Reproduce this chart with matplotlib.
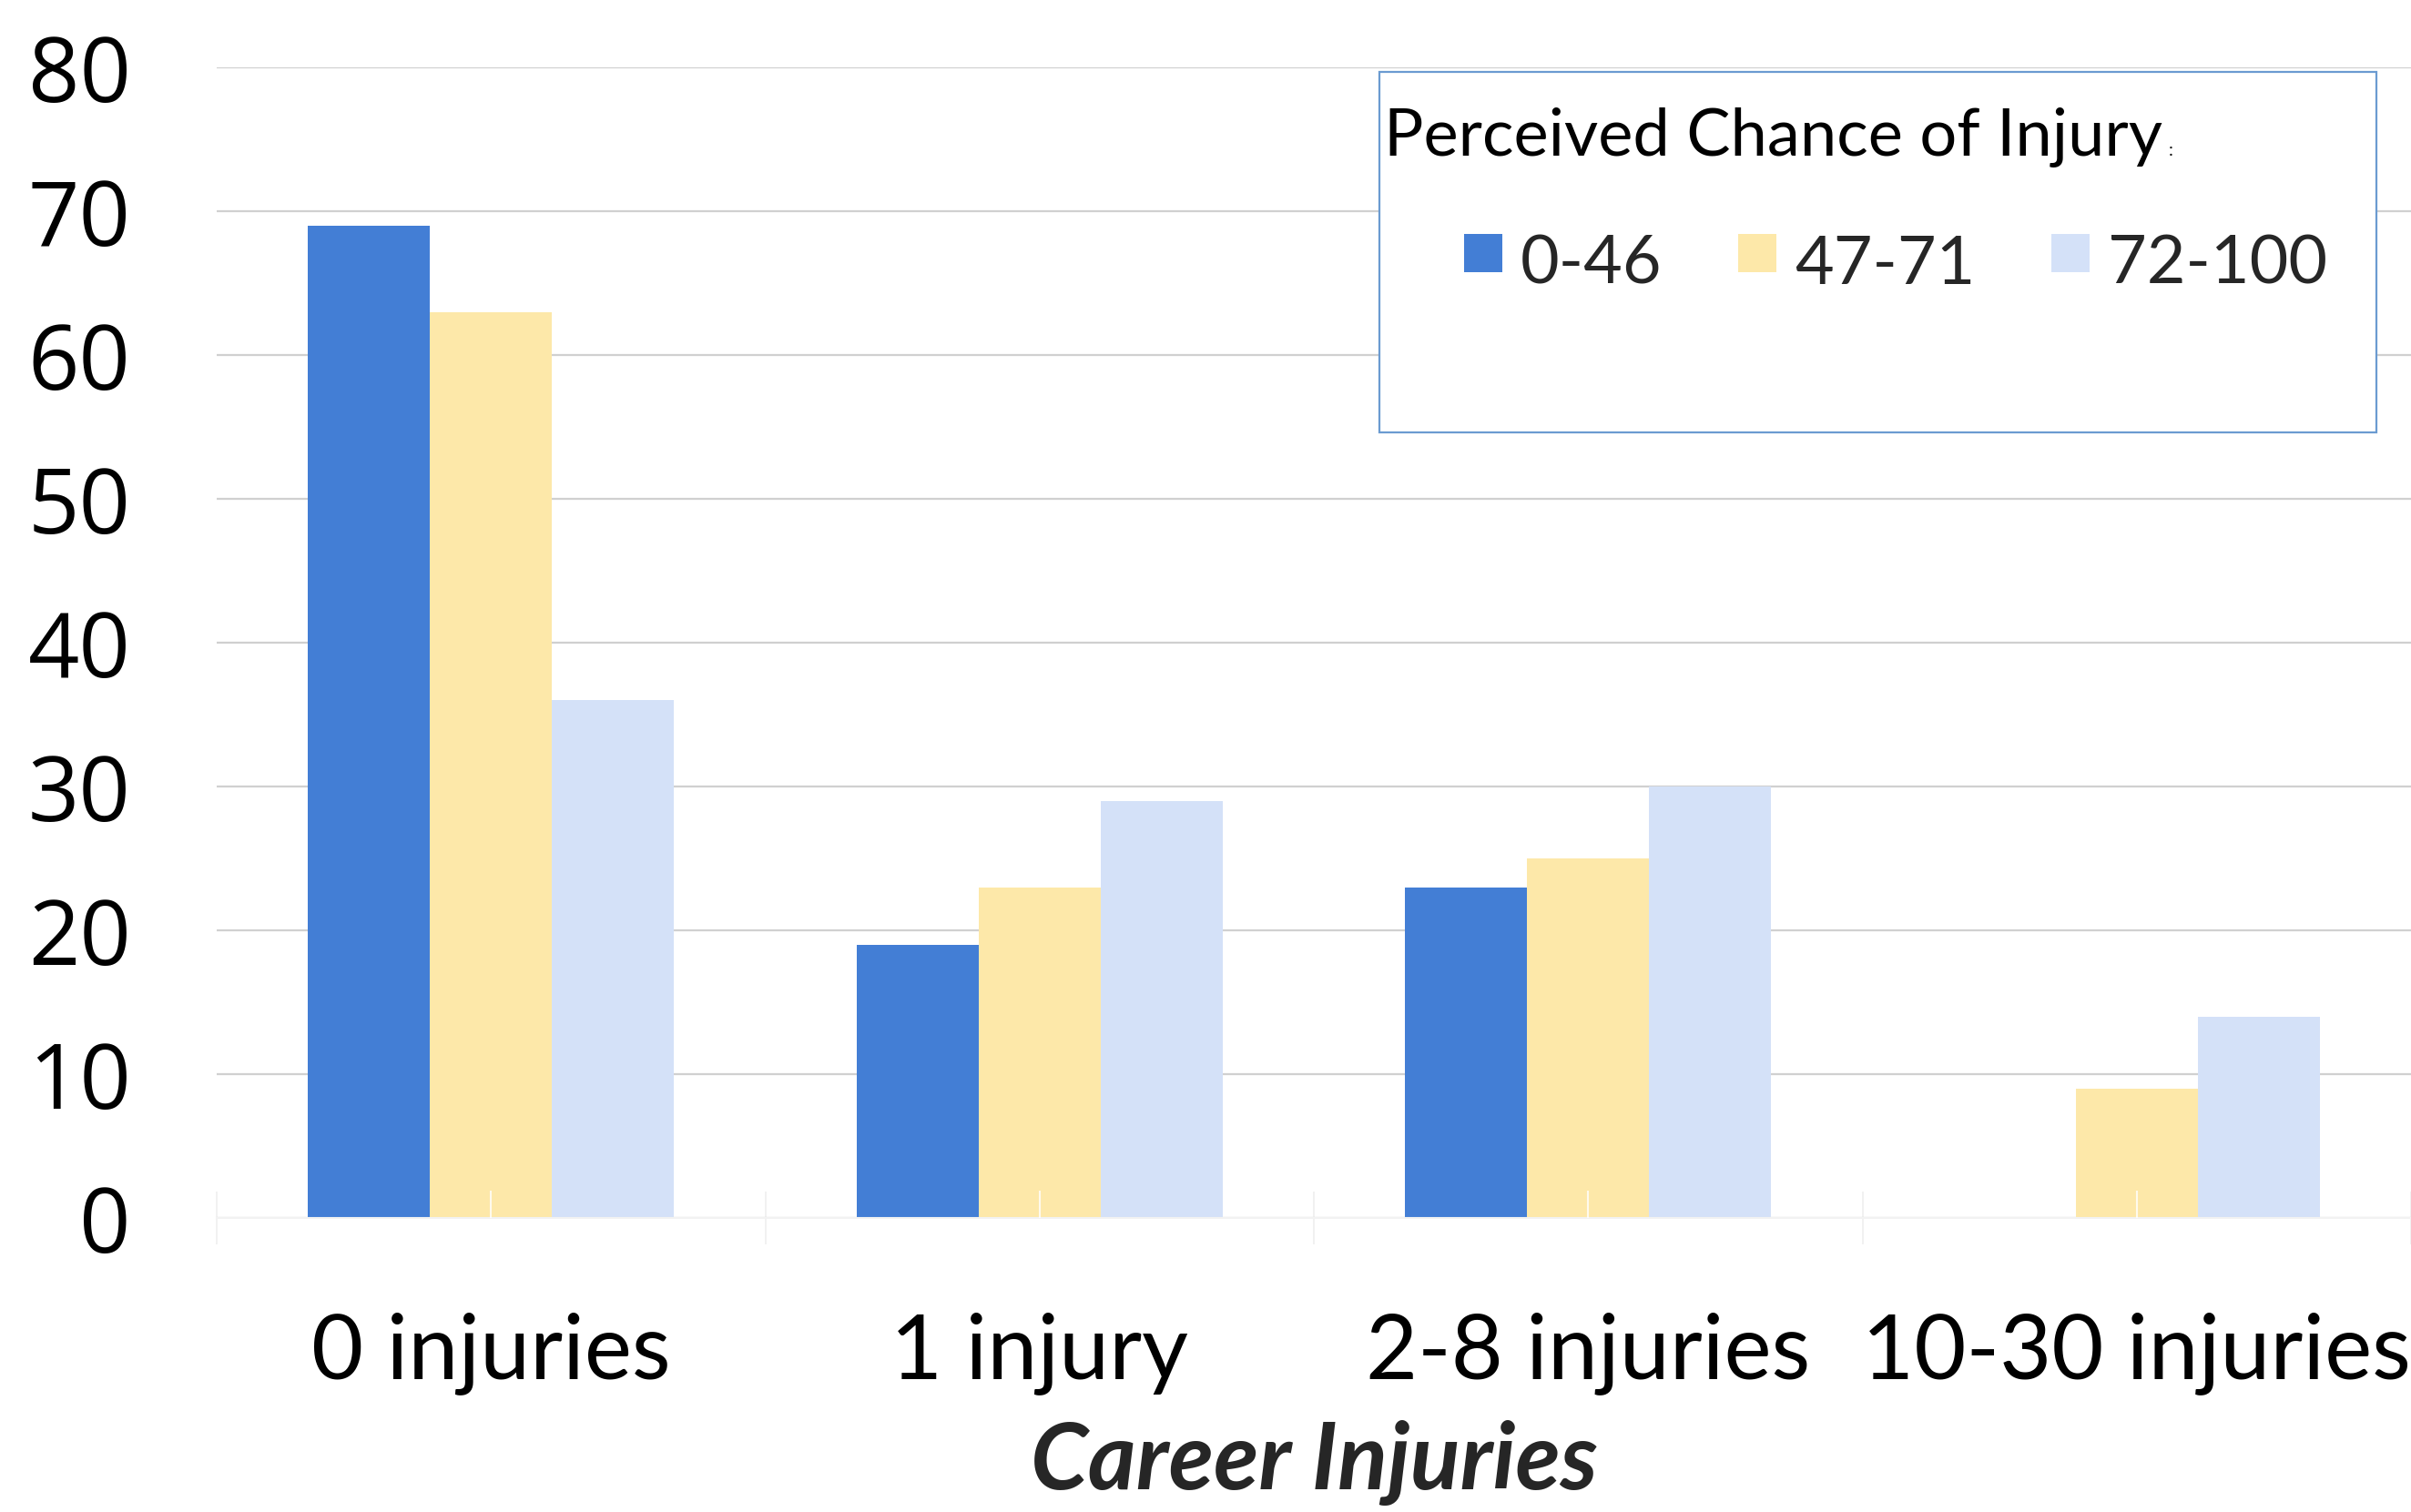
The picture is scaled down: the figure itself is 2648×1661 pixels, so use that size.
import numpy as np
import matplotlib
matplotlib.use("Agg")
import matplotlib.pyplot as plt
from matplotlib.patches import Rectangle

# data
categories = ["0 injuries", "1 injury", "2-8 injuries", "10-30 injuries"]
series_names = ["0-46", "47-71", "72-100"]
vals_0_46 = [69, 19, 23, 0]
vals_47_71 = [63, 23, 25, 9]
vals_72_100 = [36, 29, 30, 14]
colors = ["#437ED5", "#FDE8A9", "#D4E1F8"]
y_ticks = [0, 10, 20, 30, 40, 50, 60, 70, 80]

W, H = 2648, 1661
fig = plt.figure(figsize=(W / 100, H / 100), dpi=100)


def fx(px):
    return px / W


def fy(py):
    return 1 - py / H


# axes box in pixels: left 238, right 2648, top 74 (=80), bottom 1338 (=0)
ax = fig.add_axes([fx(238), fy(1338), fx(2648 - 238), (1338 - 74) / H])

x = np.arange(len(categories))
bw = 0.2225
all_vals = [vals_0_46, vals_47_71, vals_72_100]
for i, (vals, c) in enumerate(zip(all_vals, colors)):
    ax.bar(x + (i - 1) * bw, vals, width=bw, color=c, zorder=1)

ax.set_xlim(-0.5, len(categories) - 0.5)
ax.set_ylim(0, 80)
ax.set_axisbelow(True)
ax.yaxis.grid(True, color="#d0d0d0", lw=1.6)
for s in ["top", "right", "left"]:
    ax.spines[s].set_visible(False)
ax.spines["bottom"].set_color("#f2f2f2")
ax.spines["bottom"].set_linewidth(1.5)

ax.set_yticks(y_ticks)
ax.set_yticklabels([str(v) for v in y_ticks], fontfamily="Open Sans", fontsize=71)
ax.tick_params(axis="y", length=0, pad=68, colors="black")

ax.set_xticks(x)
ax.set_xticklabels(categories, fontfamily="Lato", fontsize=71)
ax.tick_params(axis="x", which="major", length=0, pad=74, colors="black")
# faint boundary ticks between categories
ax.set_xticks(np.arange(len(categories) + 1) - 0.5, minor=True)
ax.tick_params(axis="x", which="minor", length=42, direction="inout",
               color="#efefef", width=1.2)
# pale center ticks drawn over the bars
ax.vlines(x, 0, 0.024, transform=ax.get_xaxis_transform(), color="white",
          lw=1.5, zorder=3, alpha=0.8)

ax.set_xlabel("Career Injuries", fontfamily="Lato", fontsize=73,
              fontweight="bold", fontstyle="italic", color="#262626")
ax.xaxis.label.set_va("baseline")
ax.xaxis.set_label_coords(0.5, (1338 - 1636) / (1338 - 74))

# legend box (drawn by hand to match the layout)
fig.patches.append(Rectangle((fx(1515), fy(475)), fx(2610 - 1515), (475 - 79) / H,
                             transform=fig.transFigure, facecolor="white",
                             edgecolor="#6B9BD1", lw=1.6, zorder=5))
leg_font = "Lato"
fig.text(fx(1520), fy(171), "Perceived Chance of Injury", fontfamily=leg_font,
         fontsize=52, color="black", va="baseline", ha="left", zorder=6)
fig.text(fx(2382), fy(171), ":", fontfamily=leg_font, fontsize=14,
         color="black", va="baseline", ha="left", zorder=6)

patch_x = [1608, 1909, 2253]
for name, c, px in zip(series_names, colors, patch_x):
    fig.patches.append(Rectangle((fx(px), fy(299)), fx(42), 42 / H,
                                 transform=fig.transFigure, facecolor=c,
                                 edgecolor="none", zorder=6))
    fig.text(fx(px + 62), fy(312), name, fontfamily=leg_font, fontsize=53,
             color="#262626", va="baseline", ha="left", zorder=6)

fig.savefig("out.png", dpi=100, facecolor="white")
